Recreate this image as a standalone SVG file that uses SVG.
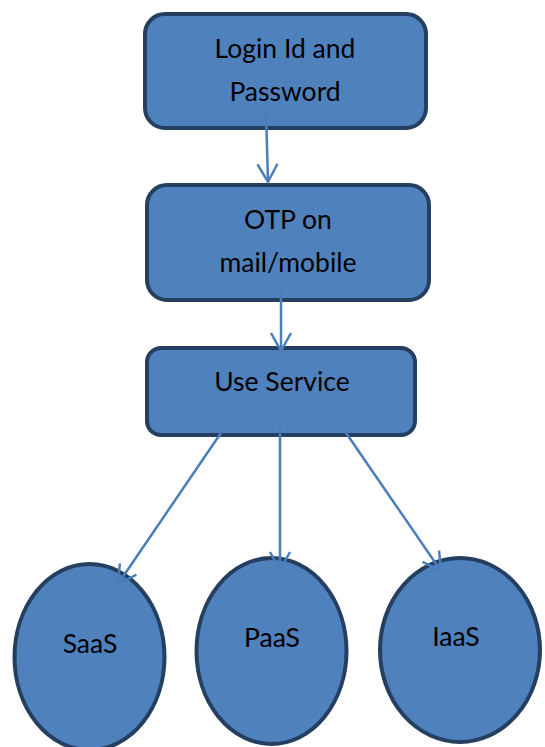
<svg xmlns="http://www.w3.org/2000/svg" width="545" height="747" viewBox="0 0 545 747">
<style>
.n{fill:#4F81BD;stroke:#243F60;stroke-width:4}
.t{font-family:Lato,"Liberation Sans",sans-serif;font-size:26.5px;fill:#000;text-anchor:middle}
.c{stroke:#4A7EBB;stroke-width:2.5;fill:none}
</style>
<defs>
<marker id="a" viewBox="0 0 24 24" refX="21" refY="12" markerWidth="24" markerHeight="24" markerUnits="userSpaceOnUse" orient="auto">
<path d="M3,2 L21,12 L3,22" fill="none" stroke="#4A7EBB" stroke-width="2.5"/>
</marker>
</defs>
<g id="login">
<rect class="n" x="145" y="14" width="281" height="114" rx="20"/>
<text class="t" x="285" y="58">Login Id and</text>
<text class="t" x="285" y="101">Password</text>
</g>
<g id="otp">
<rect class="n" x="147" y="185" width="282" height="115" rx="20"/>
<text class="t" x="288" y="229">OTP on</text>
<text class="t" x="288" y="272">mail/mobile</text>
</g>
<g id="use">
<rect class="n" x="147" y="348" width="268" height="87" rx="14"/>
<text class="t" x="282" y="391">Use Service</text>
</g>
<g id="saas">
<ellipse class="n" cx="89.5" cy="657" rx="75" ry="93"/>
<text class="t" x="90" y="653">SaaS</text>
</g>
<g id="paas">
<ellipse class="n" cx="271.5" cy="651" rx="75" ry="93"/>
<text class="t" x="272" y="647">PaaS</text>
</g>
<g id="iaas">
<ellipse class="n" cx="460" cy="650" rx="80" ry="92"/>
<text class="t" x="456" y="646">IaaS</text>
</g>
<g id="connectors">
<line class="c" x1="266" y1="110" x2="268" y2="182" marker-end="url(#a)"/>
<line class="c" x1="281" y1="285" x2="281" y2="351" marker-end="url(#a)"/>
<line class="c" x1="225" y1="427" x2="118" y2="584" marker-end="url(#a)"/>
<line class="c" x1="280" y1="427" x2="280" y2="570" marker-end="url(#a)"/>
<line class="c" x1="342" y1="427" x2="441" y2="571" marker-end="url(#a)"/>
</g>
</svg>
